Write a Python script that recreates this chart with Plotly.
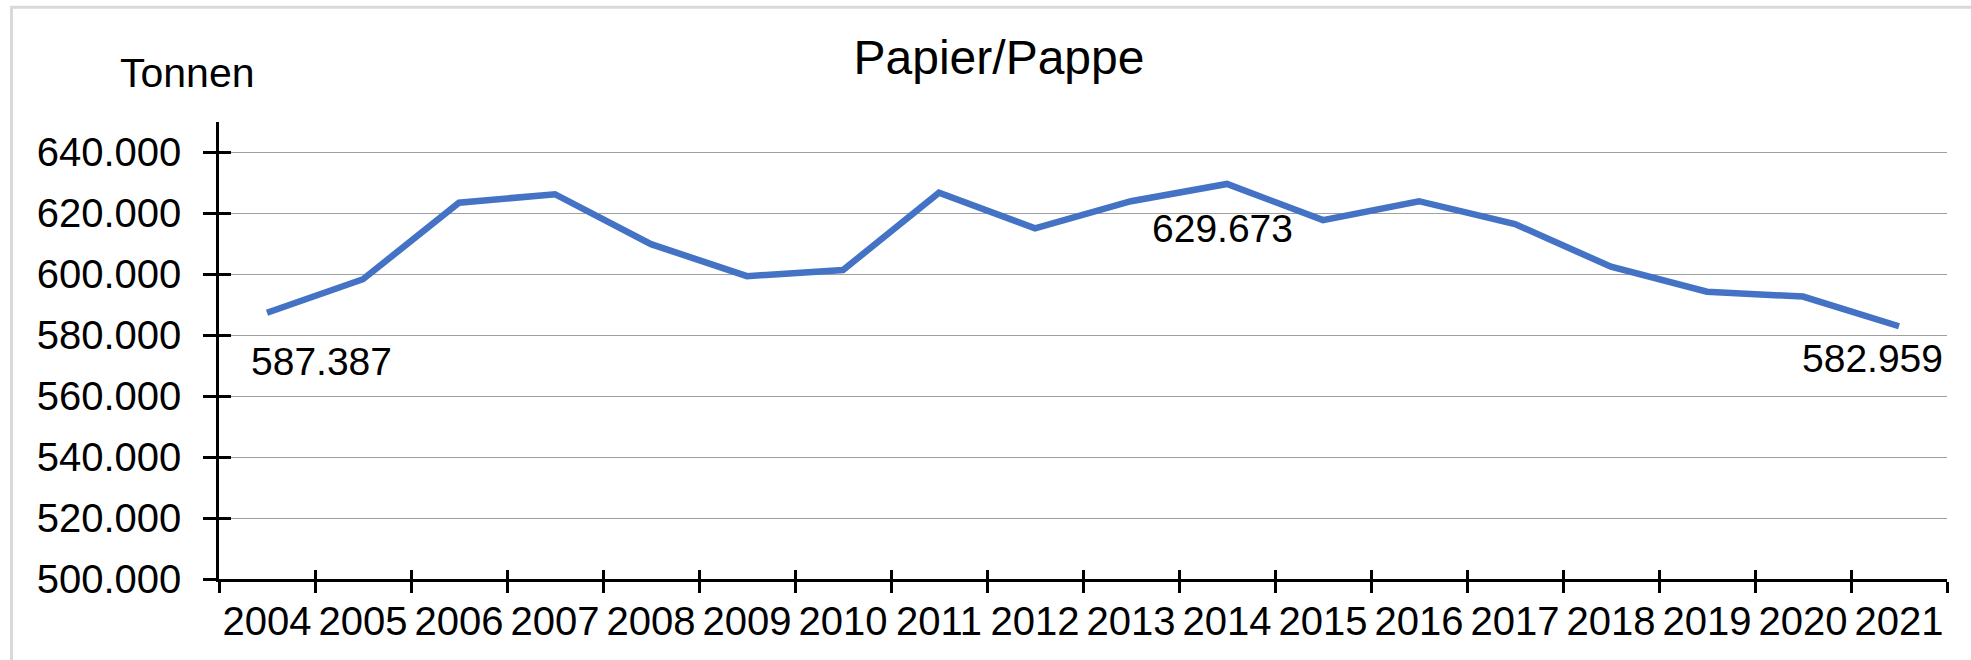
import plotly.graph_objects as go

# ---- data ----
years = [str(y) for y in range(2004, 2022)]
values = [587387, 598400, 623500, 626300, 609900, 599400, 601400, 626800, 615100,
          624000, 629673, 617800, 624000, 616500, 602500, 594300, 592700, 582959]
label_years = ["2004", "2014", "2021"]
label_texts = ["587.387", "629.673", "582.959"]
y_ticks = [500000, 520000, 540000, 560000, 580000, 600000, 620000, 640000]
y_ticktext = ["500.000", "520.000", "540.000", "560.000", "580.000", "600.000", "620.000", "640.000"]
title_text = "Papier/Pappe"
unit_text = "Tonnen"

# ---- layout geometry (px) ----
W, H = 1971, 660
ML, MR, MT, MB = 219, 24, 122, 81
PW, PH = W - ML - MR, H - MT - MB

FONT = "Liberation Sans, Arial, sans-serif"
FS_TICK = 40
FS_LABEL = 39
BLUE = "#4472C4"

def px_x(px):
    return (px - ML) / PW

def px_y(py):
    return (H - MB - py) / PH

fig = go.Figure()
fig.add_trace(go.Scatter(
    x=years, y=values, mode="lines",
    line=dict(color=BLUE, width=6.5),
    hoverinfo="x+y", showlegend=False,
))
# helper trace to bind the overlay axes (inside half of the cross ticks)
fig.add_trace(go.Scatter(
    x=list(range(len(years))), y=values, xaxis="x2", yaxis="y2",
    mode="lines", line=dict(width=0), opacity=0, hoverinfo="skip", showlegend=False,
))

label_shift = {"2004": (54, -49), "2014": (-5, -45), "2021": (-27, -32)}
for yr, txt in zip(label_years, label_texts):
    i = years.index(yr)
    v = values[i]
    dx, dy = label_shift[yr]
    fig.add_annotation(x=i, y=v, xref="x", yref="y", text=txt, showarrow=False,
                       xshift=dx, yshift=dy, xanchor="center", yanchor="middle",
                       font=dict(family=FONT, size=FS_LABEL, color="black"))

fig.add_annotation(xref="paper", yref="paper", x=px_x(187.5), y=px_y(73),
                   text=unit_text, showarrow=False, xanchor="center", yanchor="middle",
                   font=dict(family=FONT, size=41, color="black"))

# light gray chart frame (top and left visible)
fig.add_shape(type="rect", xref="paper", yref="paper",
              x0=px_x(11.5), x1=px_x(W + 10), y0=px_y(H + 10), y1=px_y(7.3),
              line=dict(color="#d9d9d9", width=3), fillcolor="rgba(0,0,0,0)", layer="below")

n = len(years)
fig.update_layout(
    width=W, height=H,
    margin=dict(l=ML, r=MR, t=MT, b=MB, pad=0, autoexpand=False),
    paper_bgcolor="white", plot_bgcolor="white",
    font=dict(family=FONT, size=FS_TICK, color="black"),
    title=dict(text=title_text, x=999 / W, xref="container", xanchor="center",
               y=1 - 57 / H, yref="container", yanchor="middle",
               font=dict(family=FONT, size=48, color="black")),
    xaxis=dict(
        type="category", categoryorder="array", categoryarray=years,
        range=[-0.5, n - 0.5], tickson="boundaries", tickangle=0, automargin=False,
        showline=True, linecolor="black", linewidth=2.5,
        ticks="outside", ticklen=11, tickwidth=2.5, tickcolor="black",
        showgrid=False, zeroline=False,
        tickfont=dict(family=FONT, size=FS_TICK, color="black"),
        ticklabelstandoff=5,
    ),
    yaxis=dict(
        range=[500000, 650000], tickvals=y_ticks, ticktext=y_ticktext, automargin=False,
        showline=True, linecolor="black", linewidth=2.5,
        ticks="outside", ticklen=13, tickwidth=2.5, tickcolor="black",
        showgrid=True, gridcolor="#a0a0a0", gridwidth=1.3, zeroline=False,
        tickfont=dict(family=FONT, size=FS_TICK, color="black"),
        ticklabelstandoff=14,
    ),
    xaxis2=dict(
        overlaying="x", anchor="y", range=[-0.5, n - 0.5],
        tickvals=[i - 0.5 for i in range(n + 1)], ticks="inside", ticklen=9,
        tickwidth=2.5, tickcolor="black", showticklabels=False,
        showgrid=False, zeroline=False, showline=False,
    ),
    yaxis2=dict(
        overlaying="y", anchor="x", side="left", range=[500000, 650000],
        tickvals=y_ticks, ticks="inside", ticklen=12, tickwidth=2.5, tickcolor="black",
        showticklabels=False, showgrid=False, zeroline=False, showline=False,
    ),
    showlegend=False,
)

fig.write_html("out.html")
